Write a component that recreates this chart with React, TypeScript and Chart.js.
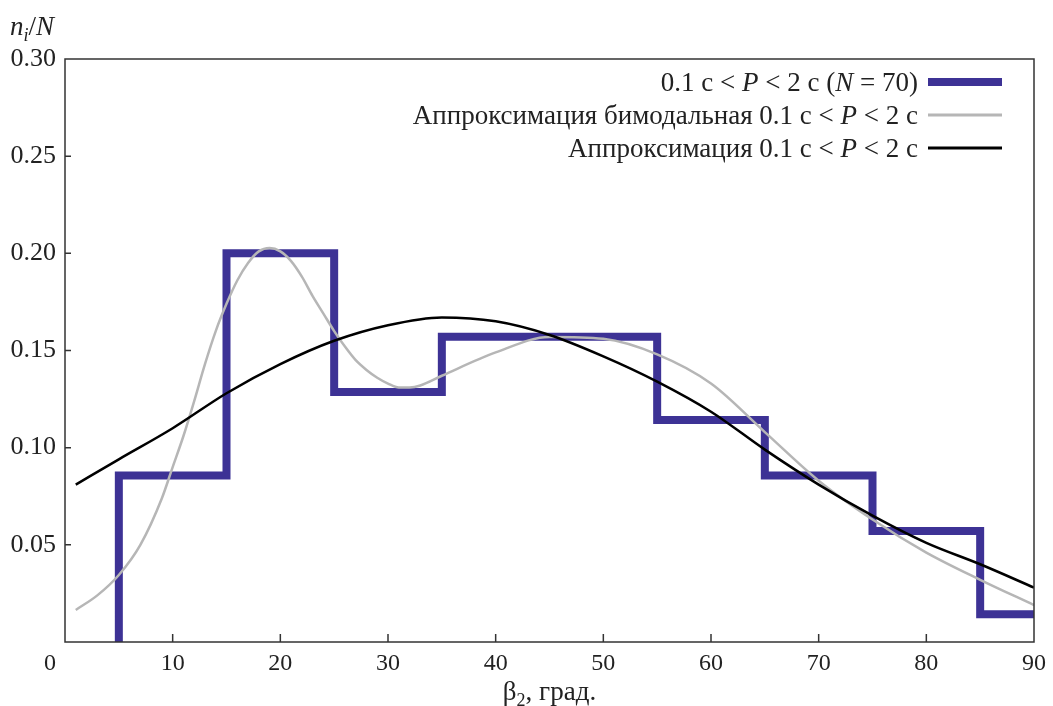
import React, { useEffect, useRef } from "react";
import { Chart, registerables } from "chart.js";

Chart.register(...registerables);

// Histogram: bin edges (degrees) and relative frequencies n_i/N (N = 70)
const binEdges = [5, 15, 25, 35, 45, 55, 65, 75, 85, 90];
const binFreq = [0.0857, 0.2, 0.1286, 0.1571, 0.1571, 0.1143, 0.0857, 0.0571, 0.0143];

// Bimodal approximation (gray)
const bimodalX = [1, 3, 5, 7, 9, 10, 11, 12, 13, 14, 15, 16, 17, 18, 19, 20, 21, 22, 23, 24, 25, 26, 27, 28, 29, 30, 31, 32, 33, 35, 40, 45, 50, 55, 60, 65, 70, 75, 80, 85, 90];
const bimodalY = [0.0165, 0.024, 0.0345, 0.05, 0.074, 0.09, 0.106, 0.124, 0.143, 0.16, 0.174, 0.186, 0.195, 0.201, 0.2027, 0.201, 0.196, 0.188, 0.178, 0.169, 0.16, 0.152, 0.145, 0.14, 0.136, 0.133, 0.131, 0.131, 0.132, 0.137, 0.149, 0.157, 0.156, 0.148, 0.133, 0.108, 0.083, 0.063, 0.046, 0.032, 0.019];

// Unimodal approximation (black)
const approxX = [1, 5, 10, 15, 20, 25, 30, 35, 40, 45, 50, 55, 60, 65, 70, 75, 80, 85, 90];
const approxY = [0.081, 0.094, 0.11, 0.128, 0.143, 0.155, 0.163, 0.167, 0.165, 0.158, 0.147, 0.134, 0.1185, 0.099, 0.081, 0.065, 0.051, 0.04, 0.028];

const xTickValues = [10, 20, 30, 40, 50, 60, 70, 80];
const yTickValues = [0.05, 0.1, 0.15, 0.2, 0.25];

type Seg = { t: string; i?: boolean; sub?: boolean };
const legendRows: Seg[][] = [
  [{ t: "0.1 с < " }, { t: "P", i: true }, { t: " < 2 с (" }, { t: "N", i: true }, { t: " = 70)" }],
  [{ t: "Аппроксимация бимодальная 0.1 с < " }, { t: "P", i: true }, { t: " < 2 с" }],
  [{ t: "Аппроксимация 0.1 с < " }, { t: "P", i: true }, { t: " < 2 с" }],
];
const yTitle: Seg[] = [{ t: "n", i: true }, { t: "i", i: true, sub: true }, { t: "/" }, { t: "N", i: true }];
const xTitle: Seg[] = [{ t: "β" }, { t: "2", sub: true }, { t: ", град." }];

const PURPLE = "#3d3295";
const GRAY = "#b6b6b6";
const BLACK = "#000000";
const TEXT = "#222222";
const FONT = '"Liberation Serif", "DejaVu Serif", serif';
const FS_TEXT = 27;
const FS_X = 24;
const FS_Y = 26;

function segFont(s: Seg) {
  const size = s.sub ? 18 : FS_TEXT;
  return `${s.i ? "italic " : ""}${size}px ${FONT}`;
}
function richWidth(ctx: CanvasRenderingContext2D, segs: Seg[]) {
  let w = 0;
  for (const s of segs) {
    ctx.font = segFont(s);
    w += ctx.measureText(s.t).width;
  }
  return w;
}
function drawRich(ctx: CanvasRenderingContext2D, segs: Seg[], x: number, y: number) {
  let cx = x;
  for (const s of segs) {
    ctx.font = segFont(s);
    ctx.fillText(s.t, cx, y + (s.sub ? 6 : 0));
    cx += ctx.measureText(s.t).width;
  }
}

const decorPlugin = {
  id: "decor",
  afterDatasetsDraw(chart: any) {
    const { ctx, chartArea: a, scales } = chart;
    ctx.save();
    // frame
    ctx.strokeStyle = "#333";
    ctx.lineWidth = 1.5;
    ctx.strokeRect(a.left, a.top, a.right - a.left, a.bottom - a.top);
    // inward ticks
    ctx.beginPath();
    for (const v of xTickValues) {
      const px = scales.x.getPixelForValue(v);
      ctx.moveTo(px, a.bottom);
      ctx.lineTo(px, a.bottom - 8);
    }
    for (const v of yTickValues) {
      const py = scales.y.getPixelForValue(v);
      ctx.moveTo(a.left, py);
      ctx.lineTo(a.left + 6, py);
    }
    ctx.stroke();

    ctx.fillStyle = TEXT;
    ctx.textBaseline = "alphabetic";
    ctx.textAlign = "left";
    // legend
    const colors = [PURPLE, GRAY, BLACK];
    const widths = [8, 3, 3];
    const sampleLeft = a.right - 106;
    const sampleRight = a.right - 32;
    const textRight = sampleLeft - 10;
    legendRows.forEach((row, k) => {
      const cy = a.top + 23 + k * 33;
      const w = richWidth(ctx, row);
      drawRich(ctx, row, textRight - w, cy + 9);
      ctx.beginPath();
      ctx.strokeStyle = colors[k];
      ctx.lineWidth = widths[k];
      ctx.moveTo(sampleLeft, cy);
      ctx.lineTo(sampleRight, cy);
      ctx.stroke();
    });
    // axis titles
    drawRich(ctx, yTitle, 10, 35);
    const xw = richWidth(ctx, xTitle);
    drawRich(ctx, xTitle, (a.left + a.right) / 2 - xw / 2, 700);
    // shared origin label
    ctx.font = `${FS_X}px ${FONT}`;
    ctx.textAlign = "center";
    ctx.fillText("0", a.left - 15, a.bottom + 28);
    ctx.restore();
  },
};

export default function App() {
  const ref = useRef<HTMLCanvasElement | null>(null);
  useEffect(() => {
    if (!ref.current) return;
    const histData = [{ x: binEdges[0], y: 0 }];
    for (let i = 0; i < binFreq.length; i++) histData.push({ x: binEdges[i], y: binFreq[i] });
    histData.push({ x: binEdges[binEdges.length - 1], y: binFreq[binFreq.length - 1] });

    const chart = new Chart(ref.current, {
      type: "line",
      data: {
        datasets: [
          {
            label: "hist",
            data: histData,
            stepped: "before",
            borderColor: PURPLE,
            borderWidth: 8,
            borderJoinStyle: "miter",
            borderCapStyle: "butt",
            pointRadius: 0,
            fill: false,
            order: 3,
          },
          {
            label: "bimodal",
            data: bimodalX.map((x, i) => ({ x, y: bimodalY[i] })),
            borderColor: GRAY,
            borderWidth: 2.5,
            cubicInterpolationMode: "monotone",
            pointRadius: 0,
            fill: false,
            order: 2,
          },
          {
            label: "approx",
            data: approxX.map((x, i) => ({ x, y: approxY[i] })),
            borderColor: BLACK,
            borderWidth: 2.5,
            cubicInterpolationMode: "monotone",
            pointRadius: 0,
            fill: false,
            order: 1,
          },
        ],
      },
      options: {
        animation: false,
        responsive: false,
        maintainAspectRatio: false,
        layout: { padding: { left: 0, right: 16, top: 59, bottom: 0 } },
        plugins: { legend: { display: false }, tooltip: { enabled: false } },
        scales: {
          x: {
            type: "linear",
            min: 0,
            max: 90,
            grid: { display: false, drawTicks: false },
            border: { display: false },
            afterFit: (s: any) => {
              s.height = 64;
            },
            ticks: {
              stepSize: 10,
              padding: 7,
              color: TEXT,
              font: { family: FONT, size: FS_X },
              callback: (v: any) => (v === 0 ? "" : String(v)),
              maxRotation: 0,
            },
          },
          y: {
            type: "linear",
            min: 0,
            max: 0.3,
            grid: { display: false, drawTicks: false },
            border: { display: false },
            afterFit: (s: any) => {
              s.width = 65;
            },
            ticks: {
              stepSize: 0.05,
              padding: 9,
              color: TEXT,
              font: { family: FONT, size: FS_Y },
              callback: (v: any) => (Math.abs(v) < 1e-9 ? "" : Number(v).toFixed(2)),
            },
          },
        },
      },
      plugins: [decorPlugin],
    } as any);
    return () => chart.destroy();
  }, []);
  return (
    <div style={{ position: "fixed", left: 0, top: 0, width: 1053, height: 706, background: "#fff" }}>
      <canvas ref={ref} width={1053} height={706} style={{ width: 1053, height: 706 }} />
    </div>
  );
}
